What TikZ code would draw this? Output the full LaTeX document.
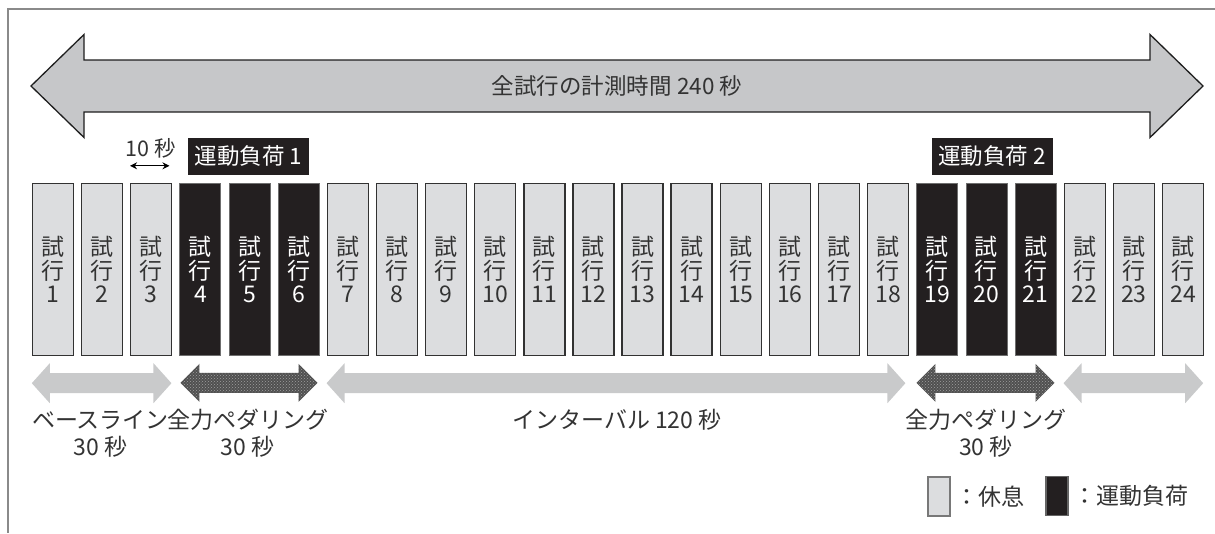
\documentclass[tikz,border=0pt]{standalone}
\usepackage{fontspec}
\setmainfont{Noto Sans CJK JP}
\usetikzlibrary{calc,patterns,arrows.meta}
\definecolor{txt}{HTML}{333333}
\definecolor{bigarr}{HTML}{C6C7C9}
\definecolor{boxgray}{HTML}{DCDDDF}
\definecolor{lightarr}{HTML}{C9CACB}
\definecolor{loadblack}{HTML}{231F20}
\definecolor{framegray}{HTML}{8A8A8A}
\definecolor{darkarr}{HTML}{505050}
\definecolor{hatch}{HTML}{A0A0A0}
\newcommand\blkarrow[6]{% #1 style, #2 left tip, #3 right tip, #4 shaft half, #5 head half, #6 head length
  \path[#1] (#2) -- ($(#2)+(#6,-#5)$) -- ($(#2)+(#6,-#4)$) -- ($(#3)+(-#6,-#4)$)
    -- ($(#3)+(-#6,-#5)$) -- (#3) -- ($(#3)+(-#6,#5)$) -- ($(#3)+(-#6,#4)$)
    -- ($(#2)+(#6,#4)$) -- ($(#2)+(#6,#5)$) -- cycle;}
\tikzset{
  rest/.style={draw={rgb,255:red,50;green,50;blue,50}, line width=1.4pt, fill=boxgray,
    minimum width=41pt, minimum height=172pt, inner sep=0pt, align=center, text=txt,
    font=\fontsize{23}{23.5}\selectfont},
  load/.style={rest, draw={rgb,255:red,110;green,110;blue,110}, line width=0.8pt, fill=loadblack, text=white},
  tag/.style={fill=loadblack, text=white, minimum width=121pt, minimum height=37pt, inner sep=0pt,
    font=\fontsize{22.5}{26}\selectfont},
  lbl/.style={text=txt, align=center, inner sep=0pt, font=\fontsize{23}{27}\selectfont},
  lightarrow/.style={fill=lightarr},
  darkarrow/.style={fill=darkarr, postaction={pattern=crosshatch dots, pattern color=hatch}},
  bigarrow/.style={fill=bigarr, draw={rgb,255:red,30;green,30;blue,30}, line width=1.3pt, line join=miter},
  legbox/.style={minimum width=22pt, minimum height=39pt, inner sep=0pt, line width=1.6pt}
}
\begin{document}
\begin{tikzpicture}[x=1pt,y=-1pt]
\useasboundingbox (0,0) rectangle (1215,533);
% frame
\draw[framegray, line width=1.5pt] (1215,9) -- (8,9) -- (8,533);
% big arrow
\coordinate (TL) at (31,86);
\coordinate (TR) at (1203,86);
\blkarrow{bigarrow}{TL}{TR}{26}{51.5}{53}
\node[text=txt, font=\fontsize{22.5}{24}\selectfont, inner sep=0pt] (title) at (617,86) {全試行の計測時間 240 秒};
% trials
\foreach \i/\s in {1/rest,2/rest,3/rest,4/load,5/load,6/load,7/rest,8/rest,9/rest,10/rest,11/rest,12/rest,
  13/rest,14/rest,15/rest,16/rest,17/rest,18/rest,19/load,20/load,21/load,22/rest,23/rest,24/rest}
  \node[\s] (t\i) at ({53+(\i-1)*49.13},269.5) {試\\行\\\i};
% 10 s marker
\node[text=txt, font=\fontsize{21.5}{24}\selectfont, inner sep=0pt] (ten) at (151,148) {10 秒};
\coordinate (tenL) at ($(t3.north west)+(0,-17)$);
\coordinate (tenR) at ($(t3.north east)+(-3,-17)$);
\draw[black, line width=1.3pt, {Stealth[length=7pt,width=7pt]}-{Stealth[length=7pt,width=7pt]}] (tenL) -- (tenR);
% load tags
\node[tag] (tag1) at (248.5,156.5) {運動負荷 1};
\node[tag] (tag2) at (992,156.5) {運動負荷 2};
% lower arrows
\coordinate (a1l) at ($(t1.south west)+(0,27)$);
\coordinate (a1r) at ($(t3.south east)+(-1,27)$);
\coordinate (a2l) at ($(t4.south west)+(1,27)$);
\coordinate (a2r) at ($(t6.south east)+(-2,27)$);
\coordinate (a3l) at ($(t7.south west)+(0,27)$);
\coordinate (a3r) at ($(t18.south east)+(-4,27)$);
\coordinate (a4l) at ($(t19.south west)+(0,27)$);
\coordinate (a4r) at ($(t21.south east)+(-2,27)$);
\coordinate (a5l) at ($(t22.south west)+(0,27)$);
\coordinate (a5r) at ($(t24.south east)+(-1,27)$);
\blkarrow{lightarrow}{a1l}{a1r}{10}{20}{18}
\blkarrow{darkarrow}{a2l}{a2r}{10}{19}{19}
\blkarrow{lightarrow}{a3l}{a3r}{10}{20}{18}
\blkarrow{darkarrow}{a4l}{a4r}{10}{19}{19}
\blkarrow{lightarrow}{a5l}{a5r}{10}{20}{18}
% lower labels
\node[lbl] (base) at (100.5,433.5) {ベースライン\\30 秒};
\node[lbl] (full1) at (247.5,433.5) {全力ペダリング\\30 秒};
\node[lbl] (inter) at (617,420) {インターバル 120 秒};
\node[lbl] (full2) at (986,433.5) {全力ペダリング\\30 秒};
% legend
\node[legbox, draw={rgb,255:red,120;green,120;blue,120}, fill=boxgray] (legR) at (939,496.5) {};
\node[lbl, anchor=west] (legRt) at ([xshift=4pt]legR.east) {：休息};
\node[legbox, draw={rgb,255:red,100;green,100;blue,100}, fill=loadblack] (legL) at (1057,496) {};
\node[lbl, anchor=west] (legLt) at ([xshift=4pt]legL.east) {：運動負荷};
\end{tikzpicture}
\end{document}
